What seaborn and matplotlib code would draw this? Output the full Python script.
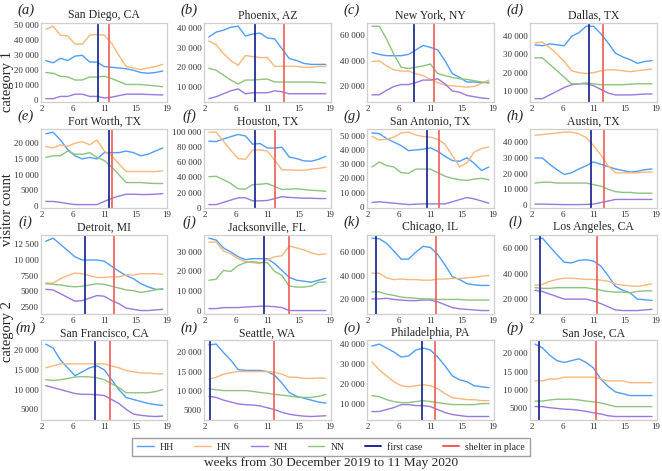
import numpy as np
import pandas as pd
import seaborn as sns
import matplotlib.pyplot as plt
from matplotlib.lines import Line2D
from matplotlib.ticker import FuncFormatter, MultipleLocator

# weekly samples (week index along the x axis)
weeks = [2.5, 3.5, 4.5, 5.5, 6.5, 7.5, 8.5, 9.5, 10.5, 11.5, 12.5, 13.5, 14.5, 15.5, 16.5, 17.5, 18.5]

cities = ["San Diego, CA", "Phoenix, AZ", "New York, NY", "Dallas, TX",
          "Fort Worth, TX", "Houston, TX", "San Antonio, TX", "Austin, TX",
          "Detroit, MI", "Jacksonville, FL", "Chicago, IL", "Los Angeles, CA",
          "San Francisco, CA", "Seattle, WA", "Philadelphia, PA", "San Jose, CA"]
letters = list("abcdefghijklmnop")

first_case = [9.6, 8.8, 8.3, 9.9, 11.1, 8.8, 10.0, 10.2, 7.8, 10.0, 3.0, 3.2, 9.2, 2.6, 9.4, 3.1]
shelter = [11.2, 12.8, 11.0, 11.8, 11.6, 11.6, 11.7, 11.9, 11.9, 13.5, 11.2, 11.0, 11.3, 11.4, 11.1, 10.9]

hh = [
    [26500, 25000, 28000, 26500, 29500, 30000, 25500, 25500, 22500, 22000, 21500, 21000, 20000, 18500, 18000, 18500, 19500],
    [35500, 38000, 39000, 40500, 41000, 36000, 37000, 37500, 35000, 34500, 29500, 24500, 23500, 22000, 21500, 21500, 21500],
    [46500, 45000, 44000, 44000, 44000, 45000, 48500, 52000, 50500, 48500, 40000, 30000, 27000, 23500, 23500, 23000, 23500],
    [35000, 34500, 35500, 35000, 34500, 39500, 41500, 45000, 45000, 41000, 36000, 30500, 28500, 27000, 25000, 26000, 26500],
    [23000, 23500, 21000, 18000, 16000, 15000, 15500, 15000, 17000, 17000, 17000, 17500, 17000, 16000, 16500, 17500, 18500],
    [88000, 87500, 91000, 94000, 97000, 95000, 84000, 85000, 79000, 79000, 80000, 67000, 65000, 62000, 61500, 64000, 68000],
    [52000, 51500, 48000, 45500, 43000, 39500, 40000, 40500, 41500, 39000, 35500, 32500, 32000, 34500, 30500, 25500, 28000],
    [30000, 30000, 26000, 22500, 19500, 20500, 23000, 25000, 27500, 26000, 24500, 23000, 22000, 21000, 21500, 22500, 23000],
    [13000, 13500, 12500, 11500, 10500, 10000, 10000, 10000, 9800, 9000, 8200, 7500, 7000, 6200, 5700, 5300, 5300],
    [37000, 36000, 32000, 30000, 27500, 26000, 26500, 26500, 26500, 24000, 20500, 17000, 15500, 15000, 14500, 15500, 16500],
    [72000, 71500, 67500, 61000, 54000, 54000, 60000, 65000, 64000, 58000, 49000, 39000, 36500, 33000, 32000, 31500, 31500],
    [67000, 68000, 61500, 55000, 49000, 48500, 50500, 51000, 50000, 46000, 38500, 30000, 27000, 25000, 20000, 19500, 19000],
    [21500, 20500, 17500, 15500, 13500, 14500, 15500, 16000, 15000, 12500, 10000, 8000, 7500, 7000, 6500, 6200, 6000],
    [22000, 22200, 20000, 18000, 15500, 15300, 15300, 15300, 15000, 14000, 12000, 9500, 8500, 8000, 7500, 7000, 6700],
    [39000, 40000, 38000, 36000, 33500, 34000, 37000, 38000, 37000, 33500, 29000, 24000, 22000, 21000, 19000, 18500, 18000],
    [22500, 21500, 19500, 18000, 17500, 18000, 18500, 17500, 16000, 13000, 11000, 9500, 9000, 8500, 8500, 8500, 8500],
]
hn = [
    [47500, 49500, 43500, 43000, 37500, 37500, 43500, 44000, 43500, 38000, 30000, 22500, 21500, 20500, 21500, 22500, 24000],
    [33500, 31500, 27000, 23500, 21000, 26000, 25500, 25000, 25000, 20500, 20500, 20500, 20500, 20000, 20000, 20500, 20500],
    [39500, 40000, 36000, 33000, 32000, 32000, 30000, 28500, 25500, 23000, 21000, 20500, 20000, 19500, 20000, 22500, 25000],
    [36000, 36500, 33500, 30000, 26000, 21000, 20000, 19500, 20000, 21000, 21500, 21500, 21000, 20500, 21000, 21500, 22000],
    [19000, 18500, 19500, 19000, 20000, 20500, 19500, 21000, 17500, 16000, 13500, 11000, 11000, 11000, 11000, 11000, 11200],
    [100000, 100000, 88000, 76000, 65000, 64000, 76500, 76500, 75000, 63000, 50000, 50000, 49500, 49500, 51000, 52000, 53500],
    [49500, 47000, 47500, 49000, 52000, 52500, 50500, 49500, 49000, 47500, 44000, 36000, 28000, 31000, 38500, 41000, 42000],
    [44500, 45000, 45500, 46000, 46500, 46500, 45500, 43000, 38000, 32000, 25000, 20500, 20500, 20500, 20500, 21000, 21000],
    [6300, 6300, 7000, 7500, 7900, 7800, 7500, 7200, 7200, 7300, 7300, 7600, 7600, 7800, 7800, 7800, 7700],
    [35000, 35000, 30500, 29000, 26500, 25000, 24500, 24000, 26000, 27500, 28000, 33000, 32000, 31000, 29500, 28500, 29000],
    [42000, 42000, 38000, 36500, 37000, 36500, 36500, 36000, 36000, 37000, 37000, 37500, 37500, 38000, 38500, 39500, 40000],
    [31000, 31500, 34000, 35500, 36500, 36500, 36000, 35500, 35500, 35000, 34000, 32000, 31000, 30500, 30000, 31000, 32000],
    [15500, 16000, 16500, 16500, 16500, 16500, 16500, 16500, 16500, 16000, 15500, 14800, 14500, 14200, 14200, 14000, 14000],
    [13000, 13500, 14300, 14700, 15000, 15000, 15000, 15000, 15000, 14800, 14300, 13500, 13500, 13200, 13200, 13300, 13200],
    [31000, 27000, 24000, 21000, 19000, 18500, 19000, 19500, 19000, 17500, 15000, 13000, 12500, 12000, 12000, 11500, 11500],
    [12500, 12500, 13000, 13000, 13500, 13500, 13500, 13500, 13500, 13000, 12500, 12500, 12500, 12000, 12000, 12000, 12000],
]
nh = [
    [1000, 1000, 2500, 2500, 4000, 4000, 2500, 2500, 1500, 2000, 3000, 4000, 4000, 4000, 3800, 3600, 3500],
    [4000, 5000, 6500, 8000, 9000, 6500, 7000, 7000, 7000, 8000, 7500, 6500, 6500, 6500, 6500, 6500, 6500],
    [13500, 13500, 17000, 20000, 21500, 21500, 23000, 25000, 25000, 26000, 22000, 16500, 15500, 13000, 12000, 11000, 10500],
    [6000, 6000, 8000, 10000, 12000, 13500, 14000, 14000, 13000, 11000, 9000, 8000, 8000, 8000, 8200, 8500, 8500],
    [1500, 1500, 1200, 800, 500, 500, 500, 500, 1500, 2500, 3200, 3800, 3800, 3700, 3700, 3800, 4000],
    [4000, 4000, 7000, 10000, 13000, 13000, 9000, 9000, 9500, 12000, 14500, 13500, 13000, 12500, 12500, 12000, 12000],
    [3000, 3500, 3000, 2500, 2000, 1500, 1800, 2000, 2000, 2000, 2000, 3500, 5000, 6500, 5500, 4000, 2500],
    [500, 500, 400, 300, 200, 200, 200, 300, 500, 1500, 2500, 3500, 3500, 3500, 3500, 3500, 3500],
    [5300, 5200, 4600, 4000, 3400, 3500, 3900, 4300, 4200, 3500, 3000, 2300, 2100, 1900, 1900, 2000, 2100],
    [1000, 1000, 1500, 1500, 1500, 1800, 2000, 2200, 2200, 2000, 1500, 0, 0, 0, 0, 0, 0],
    [20000, 20000, 20500, 19500, 19000, 18500, 18500, 19000, 19000, 17500, 15000, 12500, 11500, 11000, 10500, 10000, 10000],
    [27000, 26000, 24000, 22000, 20000, 20000, 20000, 20000, 18500, 16500, 14000, 11500, 11000, 11000, 11000, 11500, 12000],
    [11000, 10500, 10000, 9500, 9000, 8800, 8800, 8700, 8500, 7500, 6500, 5000, 3800, 3500, 3300, 3200, 3300],
    [8500, 8200, 7500, 7000, 6500, 6300, 6200, 6000, 5500, 5000, 4300, 3800, 3500, 3300, 3200, 3300, 3400],
    [6000, 6000, 7000, 8000, 9500, 9500, 9000, 9000, 8500, 7000, 5500, 4500, 4000, 3500, 3500, 3500, 3500],
    [5500, 5500, 5200, 5000, 4800, 4700, 4500, 4200, 3800, 3500, 3000, 2800, 2800, 2800, 2800, 2800, 2800],
]
nn = [
    [18500, 18000, 16000, 15500, 13500, 13500, 15500, 15500, 16000, 14500, 12500, 10500, 10500, 10500, 10000, 9500, 9000],
    [19500, 18500, 16000, 13500, 11500, 13500, 13500, 13800, 14000, 12500, 12500, 12500, 12500, 12500, 12500, 12300, 12000],
    [67000, 67000, 57000, 45000, 35000, 34000, 35000, 36000, 37500, 30000, 28500, 27000, 26000, 25500, 24500, 23500, 22500],
    [28000, 28000, 24500, 21000, 17500, 14000, 14000, 14500, 14000, 13500, 13500, 13500, 13500, 13800, 14000, 14000, 14000],
    [15500, 16000, 16000, 17500, 16500, 16500, 17000, 15500, 14500, 12500, 10000, 7500, 7500, 7500, 7300, 7200, 7200],
    [41000, 41500, 37000, 32000, 25000, 24500, 30500, 31000, 32000, 28000, 24000, 24500, 25000, 24000, 23000, 22500, 21500],
    [28000, 31500, 29000, 28000, 24000, 23500, 26500, 26500, 26500, 24000, 21500, 20000, 19000, 18500, 19500, 20000, 19000],
    [14000, 14500, 14500, 14000, 14000, 14000, 14000, 14000, 13000, 12000, 10000, 8500, 8000, 8000, 7500, 7500, 7500],
    [6200, 6100, 6000, 5800, 5700, 5800, 6000, 6200, 6100, 5800, 5500, 5200, 5100, 4800, 5000, 5200, 5400],
    [15500, 16000, 20500, 20000, 23000, 24500, 25000, 24500, 24500, 20000, 18000, 12500, 12000, 12000, 12500, 14500, 14500],
    [26000, 26000, 24000, 23000, 21500, 21000, 20500, 20000, 20000, 19500, 19500, 19500, 19500, 19000, 19000, 19000, 19000],
    [29000, 28500, 28500, 29000, 29000, 29000, 29000, 29000, 28000, 27000, 26000, 25500, 25500, 25000, 26000, 26500, 26500],
    [12500, 12300, 12500, 12800, 13200, 13300, 13200, 13000, 12500, 11500, 10500, 9200, 9200, 9200, 9200, 9500, 10000],
    [10500, 10200, 10000, 10000, 10000, 10000, 9800, 9500, 9300, 9000, 8800, 8600, 8300, 8200, 8200, 8500, 9000],
    [14000, 13500, 12000, 11000, 10500, 10500, 11000, 11500, 11000, 10500, 10000, 9500, 9500, 9500, 9500, 10000, 10000],
    [7000, 7000, 7300, 7500, 7500, 7500, 7300, 7000, 6800, 6500, 6000, 5500, 5500, 5500, 5500, 5500, 5500],
]

series_names = ["HH", "HN", "NH", "NN"]
colors = {"HH": "#4f9dfa", "HN": "#fbb77a", "NH": "#9a78e0", "NN": "#8cc47e"}
first_color = "#1c2a8f"
shelter_color = "#f25a55"
ystep = [10000, 10000, 20000, 10000, 5000, 20000, 10000, 10000,
         2500, 10000, 20000, 20000, 5000, 5000, 10000, 5000]

sns.set_style("white")
plt.rcParams["font.family"] = ["Liberation Serif", "DejaVu Serif"]
plt.rcParams["axes.edgecolor"] = "#cfcfcf"
plt.rcParams["axes.linewidth"] = 0.9


def fmt(v, pos):
    if abs(v) >= 10000:
        return f"{v:,.0f}".replace(",", " ")
    return f"{v:.0f}"


fig, axes = plt.subplots(4, 4, figsize=(6.62, 4.71), dpi=100)
fig.subplots_adjust(left=0.062, right=0.992, top=0.952, bottom=0.108, wspace=0.29, hspace=0.33)

for i, ax in enumerate(axes.flat):
    df = pd.DataFrame({
        "week": weeks * 4,
        "count": hh[i] + hn[i] + nh[i] + nn[i],
        "series": [s for s in series_names for _ in weeks],
    })
    sns.lineplot(data=df, x="week", y="count", hue="series", palette=colors,
                 ax=ax, legend=False, linewidth=1.0)
    ax.axvline(first_case[i], color=first_color, lw=1.4, alpha=0.9)
    ax.axvline(shelter[i], color=shelter_color, lw=1.4, alpha=0.85)
    ax.set_xlim(1.85, 19.15)
    xt = np.linspace(2, 19, 5)
    ax.set_xticks(xt)
    ax.set_xticklabels([str(int(np.floor(t + 0.5))) for t in xt])
    ax.yaxis.set_major_locator(MultipleLocator(ystep[i]))
    ax.yaxis.set_major_formatter(FuncFormatter(fmt))
    ax.tick_params(axis="both", labelsize=6.5, length=0, pad=2, labelcolor="#333333")
    ax.set_xlabel("")
    ax.set_ylabel("")
    ax.set_title(cities[i], fontsize=8.5, pad=3)
    ax.text(-0.12, 1.07, f"({letters[i]})", transform=ax.transAxes,
            fontsize=10.5, style="italic", ha="center", va="bottom")
    for sp in ax.spines.values():
        sp.set_color("#cfcfcf")

fig.text(0.002, 1 - 82 / 471, "category 1", rotation=90, ha="left", va="center", fontsize=10.5)
fig.text(0.002, 1 - 210 / 471, "visitor count", rotation=90, ha="left", va="center", fontsize=10.5)
fig.text(0.002, 1 - 332 / 471, "category 2", rotation=90, ha="left", va="center", fontsize=10.5)

handles = [Line2D([], [], color=colors[s], lw=1.0) for s in series_names]
handles += [Line2D([], [], color=first_color, lw=1.4), Line2D([], [], color=shelter_color, lw=1.4)]
labels = series_names + ["first case", "shelter in place"]
fig.legend(handles, labels, loc="center", bbox_to_anchor=(0.5, 1 - 447 / 471), ncol=6,
           fontsize=7, frameon=True, edgecolor="#888888", fancybox=False,
           handlelength=1.7, handletextpad=0.6, columnspacing=2.1, borderpad=0.5)
fig.text(0.5, 1 - 463 / 471, "weeks from 30 December 2019 to 11 May 2020",
         ha="center", va="center", fontsize=9.5)

fig.savefig("out.png", dpi=100)
